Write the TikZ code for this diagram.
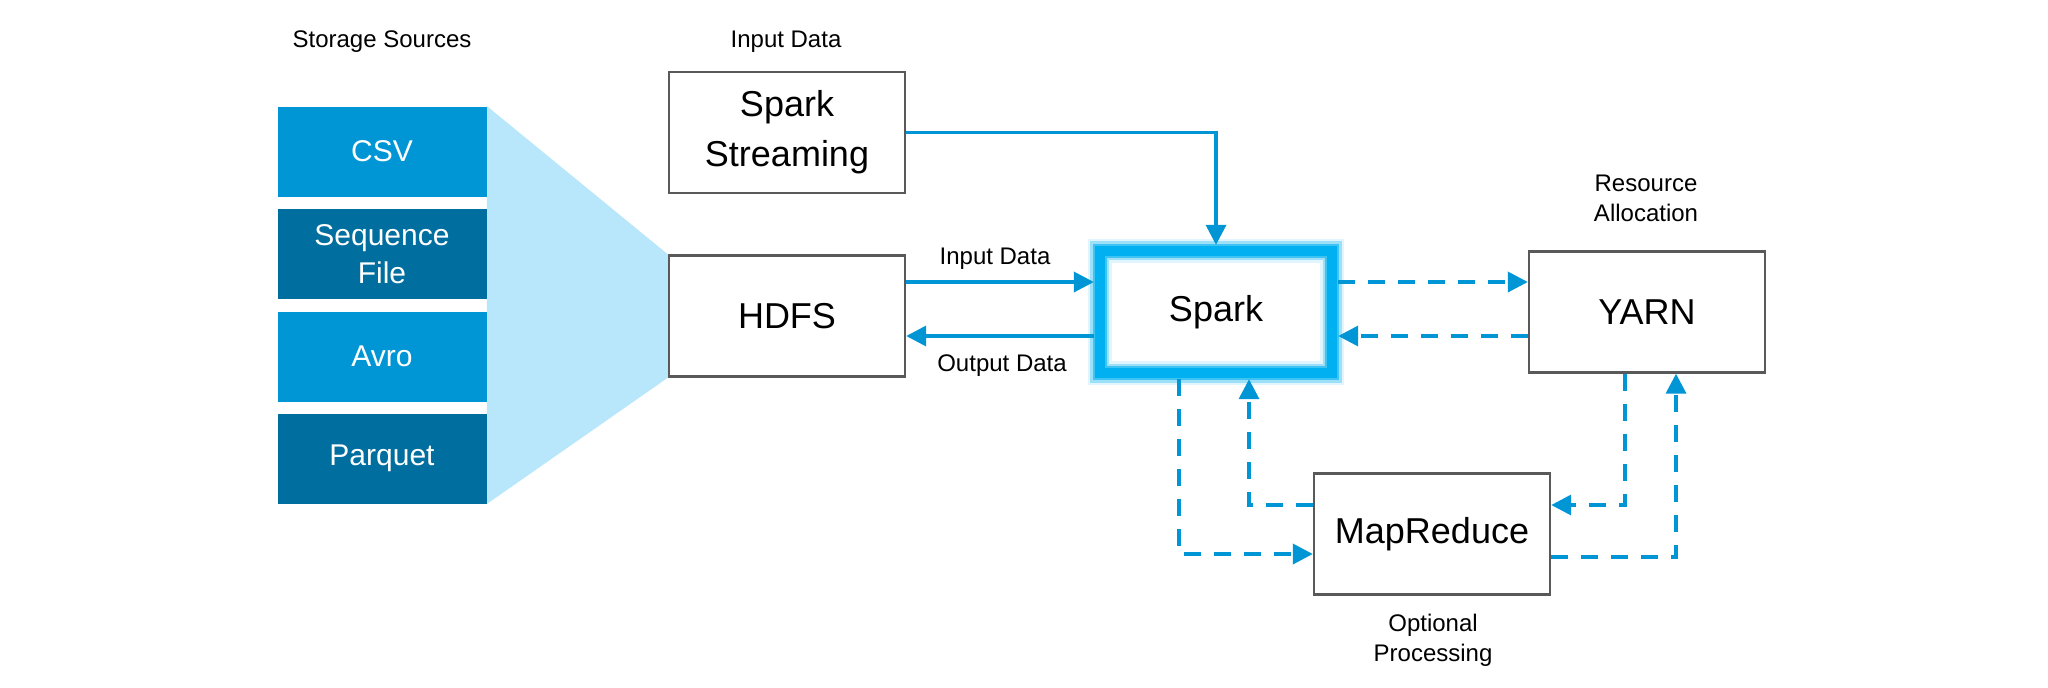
\documentclass[tikz,border=0pt]{standalone}
\usepackage{fontspec}
\setmainfont{Liberation Sans}
\usetikzlibrary{arrows.meta,calc,backgrounds}
\definecolor{arrowblue}{HTML}{0096D6}
\definecolor{lightsrc}{HTML}{0096D6}
\definecolor{darksrc}{HTML}{006E9E}
\definecolor{funnelblue}{HTML}{B8E7FB}
\definecolor{glowblue}{HTML}{00B0F0}
\definecolor{boxgray}{HTML}{595959}
\begin{document}
\begin{tikzpicture}[x=0.5pt,y=-0.5pt,
  compbox/.style={draw=boxgray, line width=1.2pt, fill=white, minimum width=118pt, minimum height=60.5pt, inner sep=0pt, font=\fontsize{18}{25}\selectfont, align=center},
  srcbox/.style={minimum width=104.5pt, minimum height=45pt, inner sep=0pt, text=white, font=\fontsize{15}{19}\selectfont, align=center},
  lbl/.style={font=\fontsize{12}{15}\selectfont, align=center, inner sep=0pt},
  solidarrow/.style={draw=arrowblue, line width=1.8pt, -{Triangle[length=10pt,width=10pt]}},
  dasharrow/.style={solidarrow, dash pattern=on 8.5pt off 6.5pt},
]
\useasboundingbox (0,0) rectangle (2048,687);

\node[lbl] (lss) at (382,42) {Storage Sources};
\node[lbl] (lin) at (786,42) {Input Data};

\node[srcbox, fill=lightsrc] (csv) at (382,151.5) {CSV};
\node[srcbox, fill=darksrc] (seq) at (382,254) {Sequence\\File};
\node[srcbox, fill=lightsrc] (avro) at (382,356.5) {Avro};
\node[srcbox, fill=darksrc] (parq) at (382,458.5) {Parquet};

\node[compbox] (ss) at (787,132.5) {Spark\\Streaming};
\node[compbox] (hdfs) at (787,316) {HDFS};
\node[compbox, draw=none, minimum width=115pt, minimum height=60pt] (spark) at (1216,312) {Spark};
\node[compbox] (yarn) at (1647,312) {YARN};
\node[compbox] (mr) at (1432,534) {MapReduce};

\begin{scope}[on background layer]
\fill[white] (0,0) rectangle (2048,687);
\fill[funnelblue] (csv.north east) -- (hdfs.north west) -- (hdfs.south west) -- (parq.south east) -- cycle;
\end{scope}

\foreach \w/\o in {12pt/0.12, 9.5pt/0.3, 7pt/0.6, 5pt/1}
  \draw[glowblue, line width=\w, opacity=\o] (spark.north west) rectangle (spark.south east);

\node[lbl] (lind) at (995,259) {Input Data};
\node[lbl] (loutd) at (1002,366) {Output Data};
\node[lbl] (lres) at (1646,198) {Resource\\Allocation};
\node[lbl] (lopt) at (1433,640) {Optional\\Processing};

\draw[solidarrow, shorten >=3pt] (ss.east) -| (spark.north);
\draw[solidarrow, shorten >=3pt] ($(hdfs.east)+(0,-34)$) -- ($(spark.west)+(0,-30)$);
\draw[solidarrow, shorten <=3pt] ($(spark.west)+(0,24)$) -- ($(hdfs.east)+(0,20)$);
\draw[dasharrow, shorten <=3pt] ($(spark.east)+(0,-30)$) -- ($(yarn.west)+(0,-30)$);
\draw[dasharrow, shorten >=3pt] ($(yarn.west)+(0,24)$) -- ($(spark.east)+(0,24)$);
\draw[dasharrow, shorten <=3pt] ($(spark.south)+(-37,0)$) |- ($(mr.west)+(0,20)$);
\draw[dasharrow, shorten >=3pt] ($(mr.west)+(0,-29)$) -| ($(spark.south)+(33,0)$);
\draw[dasharrow] ($(yarn.south)+(-22,0)$) |- ($(mr.east)+(0,-29)$);
\draw[dasharrow] ($(mr.east)+(0,23)$) -| ($(yarn.south)+(29,0)$);
\end{tikzpicture}
\end{document}
